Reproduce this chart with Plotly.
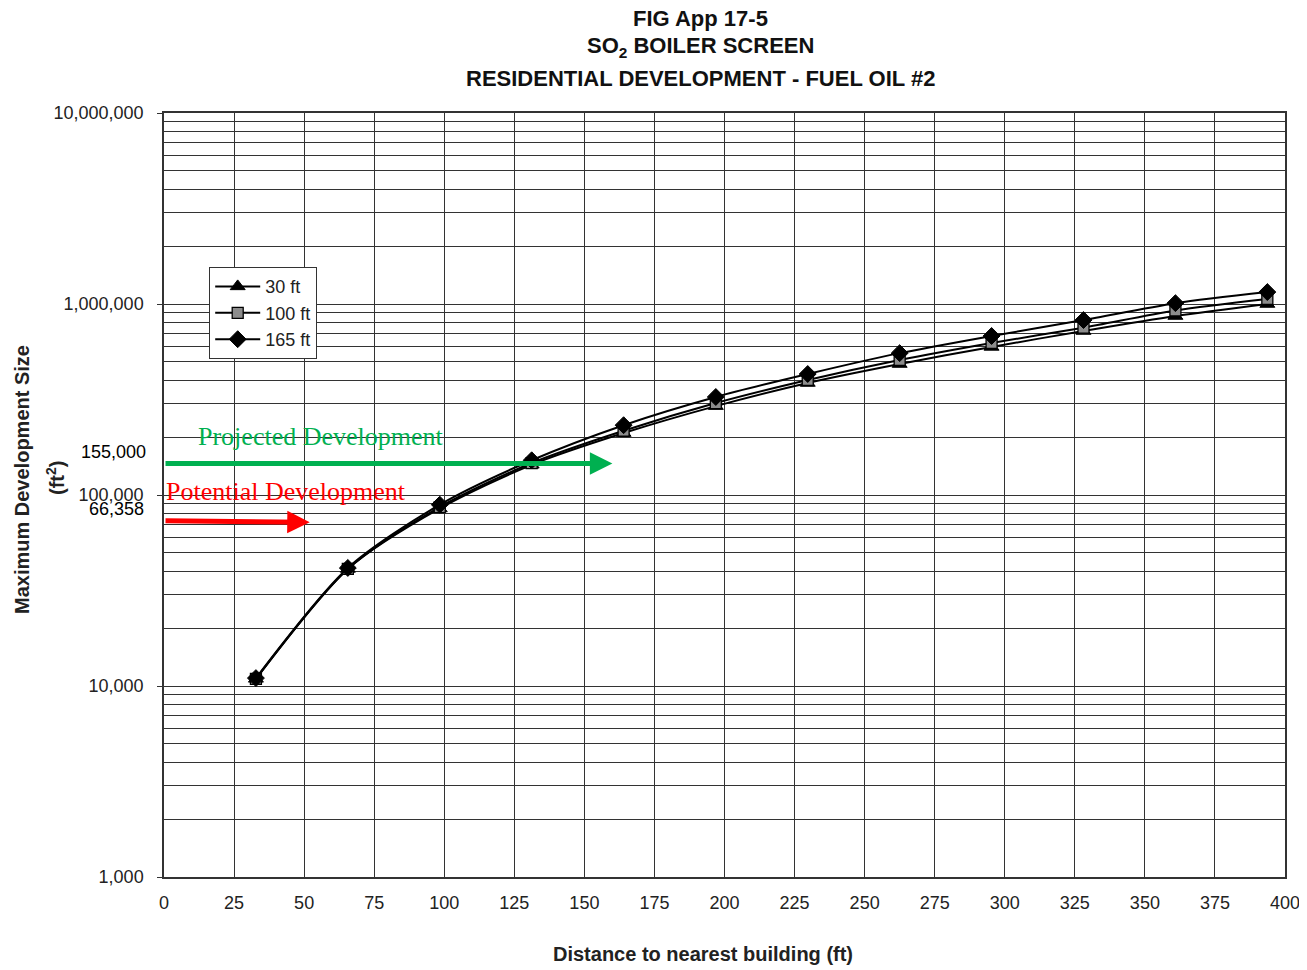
import math
import plotly.graph_objects as go

# Data
distance_ft = [32.8, 65.6, 98.4, 131.2, 164.0, 196.9, 229.7, 262.5, 295.3, 328.1, 360.9, 393.7]
size_30ft = [10900, 41000, 85000, 144000, 211000, 292000, 386000, 485000, 596000, 722000, 865000, 1000000]
size_100ft = [10900, 41000, 86500, 147000, 217000, 303000, 400000, 509000, 625000, 752000, 925000, 1062000]
size_165ft = [11000, 41500, 89000, 152000, 232000, 326000, 430000, 553000, 680000, 824000, 1010000, 1155000]

series_names = ["30 ft", "100 ft", "165 ft"]
x_ticks = list(range(0, 401, 25))

title_lines = ["FIG App 17-5", "SO<sub>2</sub> BOILER SCREEN", "RESIDENTIAL DEVELOPMENT - FUEL OIL #2"]

projected_label = "155,000"
potential_label = "66,358"
projected_arrow_y = 146000
potential_arrow_y = 72000
projected_arrow_x = [0, 160]
potential_arrow_x = [0, 52]

# page body adds an 8px offset; work in screenshot pixels and convert
OFF = 8
W, H = 1307 - OFF, 970 - OFF
L, R, T, B = 164 - OFF, 22, 113 - OFF, 93
PW, PH = W - L - R, H - T - B


def px(xs):
    return (xs - OFF - L) / PW


def py(ys):
    return (H - B - (ys - OFF)) / PH


fig = go.Figure()

fig.add_trace(go.Scatter(
    x=distance_ft, y=size_30ft, name=series_names[0], mode="lines+markers",
    line=dict(color="black", width=2, shape="spline", smoothing=0.8),
    marker=dict(symbol="triangle-up", size=13, color="black", line=dict(color="black", width=1)),
))
fig.add_trace(go.Scatter(
    x=distance_ft, y=size_100ft, name=series_names[1], mode="lines+markers",
    line=dict(color="black", width=2, shape="spline", smoothing=0.8),
    marker=dict(symbol="square", size=11, color="#8c8c8c", line=dict(color="black", width=1.3)),
))
fig.add_trace(go.Scatter(
    x=distance_ft, y=size_165ft, name=series_names[2], mode="lines+markers",
    line=dict(color="black", width=2, shape="spline", smoothing=0.8),
    marker=dict(symbol="diamond", size=13, color="black", line=dict(color="black", width=1)),
))

grid_col = "#333333"
sans = "Liberation Sans, Arial"

fig.update_layout(
    width=W, height=H,
    margin=dict(l=L, r=R, t=T, b=B, autoexpand=False),
    paper_bgcolor="white", plot_bgcolor="white",
    font=dict(family=sans, color="black", size=18),
    showlegend=True,
    legend=dict(
        x=px(209), y=py(267), xanchor="left", yanchor="top",
        bgcolor="white", bordercolor="#333", borderwidth=1.2,
        font=dict(size=18, family=sans, color="#222"),
        itemwidth=45, tracegroupgap=0,
    ),
    xaxis=dict(
        range=[0, 400], tickmode="array", tickvals=x_ticks,
        ticktext=[str(v) for v in x_ticks],
        showgrid=True, gridcolor=grid_col, gridwidth=1.3,
        showline=True, linecolor=grid_col, linewidth=1.5, mirror=True,
        ticks="", zeroline=False, ticklabelstandoff=9,
        tickfont=dict(size=18, color="#222"),
    ),
    yaxis=dict(
        type="log", range=[3, 7], dtick=1, tickformat=",d",
        showgrid=True, gridcolor=grid_col, gridwidth=1.3,
        minor=dict(dtick="D1", showgrid=True, gridcolor=grid_col, gridwidth=1.3, ticks=""),
        showline=True, linecolor=grid_col, linewidth=1.5, mirror=True,
        ticks="outside", ticklen=5, tickcolor=grid_col, ticklabelstandoff=10,
        zeroline=False,
        tickfont=dict(size=18, color="#222"),
    ),
)

# Title (three lines)
for text, yp in zip(title_lines, [19, 47, 78]):
    fig.add_annotation(
        text="<b>" + text + "</b>", xref="paper", yref="paper", x=px(700), y=py(yp),
        xanchor="center", yanchor="middle", showarrow=False,
        font=dict(size=22, family=sans, color="#111"),
    )

# Axis titles
fig.add_annotation(
    text="<b>Distance to nearest building (ft)</b>",
    xref="paper", yref="paper", x=px(703), y=py(954),
    xanchor="center", yanchor="middle", showarrow=False,
    font=dict(size=20, family=sans, color="#222"),
)
fig.add_annotation(
    text="<b>Maximum Development Size</b>",
    xref="paper", yref="paper", x=px(22), y=py(480),
    xanchor="center", yanchor="middle", showarrow=False, textangle=-90,
    font=dict(size=20, family=sans, color="#222"),
)
fig.add_annotation(
    text="<b>(ft<sup>2</sup>)</b>",
    xref="paper", yref="paper", x=px(55), y=py(478),
    xanchor="center", yanchor="middle", showarrow=False, textangle=-90,
    font=dict(size=20, family=sans, color="#222"),
)

# Extra value labels at left
fig.add_annotation(
    text=projected_label, xref="paper", yref="paper", x=px(148), y=py(452),
    xanchor="right", yanchor="middle", showarrow=False,
    font=dict(size=18, family=sans, color="black"),
)
fig.add_annotation(
    text=potential_label, xref="paper", yref="paper", x=px(146), y=py(509),
    xanchor="right", yanchor="middle", showarrow=False,
    font=dict(size=18, family=sans, color="black"),
)

# Development texts
fig.add_annotation(
    text="Projected Development", x=56, y=5.304, xref="x", yref="y",
    xanchor="center", yanchor="middle", showarrow=False,
    font=dict(size=26, family="Liberation Serif, Times New Roman", color="#00b050"),
)
fig.add_annotation(
    text="Potential Development", x=43.7, y=5.016, xref="x", yref="y",
    xanchor="center", yanchor="middle", showarrow=False,
    font=dict(size=26, family="Liberation Serif, Times New Roman", color="red"),
)

# Arrows
fig.add_annotation(
    x=projected_arrow_x[1], y=math.log10(projected_arrow_y),
    ax=projected_arrow_x[0], ay=math.log10(projected_arrow_y),
    xref="x", yref="y", axref="x", ayref="y", text="", showarrow=True,
    arrowhead=2, arrowsize=0.9, arrowwidth=5, arrowcolor="#00b050",
)
fig.add_annotation(
    x=potential_arrow_x[1], y=math.log10(potential_arrow_y),
    ax=potential_arrow_x[0], ay=math.log10(potential_arrow_y) + 0.008,
    xref="x", yref="y", axref="x", ayref="y", text="", showarrow=True,
    arrowhead=2, arrowsize=0.9, arrowwidth=5, arrowcolor="red",
)

fig.write_html("out.html")
